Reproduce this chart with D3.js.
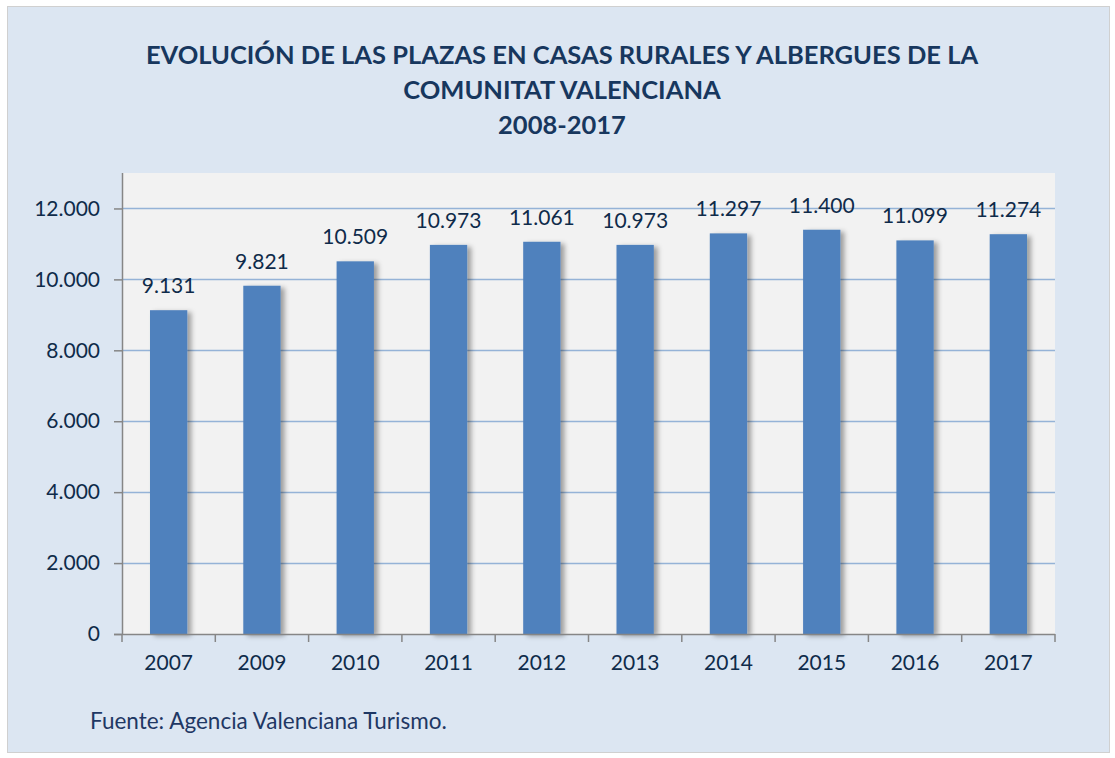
<!DOCTYPE html>
<html>
<head>
<meta charset="utf-8">
<script src="https://cdn.jsdelivr.net/npm/d3@7"></script>
<style>
  body { margin: 0; background: #fff; }
  text { font-family: Lato, "Open Sans", sans-serif; }
</style>
</head>
<body>
<div id="chart"></div>
<script>
const years = ['2007', '2009', '2010', '2011', '2012', '2013', '2014', '2015', '2016', '2017']
const plazas = [9131, 9821, 10509, 10973, 11061, 10973, 11297, 11400, 11099, 11274]
const yTicks = [0, 2000, 4000, 6000, 8000, 10000, 12000]
const titleLines = ['EVOLUCIÓN DE LAS PLAZAS EN CASAS RURALES Y ALBERGUES DE LA', 'COMUNITAT VALENCIANA', '2008-2017']
const source = 'Fuente: Agencia Valenciana Turismo.'

const width = 1115, height = 758
const margin = { top: 173, right: 60, bottom: 124, left: 122 }
const fmt = v => d3.format(',')(v).replace(/,/g, '.')

const svg = d3.select('#chart').append('svg').attr('width', width).attr('height', height)

// shadow for bars
const defs = svg.append('defs')
defs.append('filter').attr('id', 'shadow').attr('x', '-20%').attr('y', '-5%').attr('width', '160%').attr('height', '115%')
  .append('feDropShadow').attr('dx', 4).attr('dy', 2).attr('stdDeviation', 2.5)
  .attr('flood-color', '#000').attr('flood-opacity', 0.35)

// chart background + border
svg.append('rect').attr('x', 7.5).attr('y', 6.5).attr('width', 1102).attr('height', 746)
  .attr('fill', '#dce6f2').attr('stroke', '#d0d0d0')

const x = d3.scaleBand().domain(years)
  .range([margin.left, width - margin.right]).paddingInner(0.6).paddingOuter(0.3)
const y = d3.scaleLinear().domain([0, 13000]).range([height - margin.bottom, margin.top])

// plot area
svg.append('rect').attr('x', margin.left).attr('y', margin.top)
  .attr('width', width - margin.right - margin.left).attr('height', y(0) - margin.top)
  .attr('fill', '#f2f2f2')

// gridlines
svg.append('g').selectAll('line').data(yTicks.slice(1)).join('line')
  .attr('x1', margin.left).attr('x2', width - margin.right)
  .attr('y1', d => Math.round(y(d)) + 0.5).attr('y2', d => Math.round(y(d)) + 0.5)
  .attr('stroke', '#95b3d7').attr('stroke-width', 1.5)

// title
svg.append('text').attr('text-anchor', 'middle').attr('fill', '#17375e')
  .attr('font-weight', 'bold').attr('font-size', 25.5)
  .selectAll('tspan').data(titleLines).join('tspan')
  .attr('x', 562).attr('y', (d, i) => 64 + i * 35).text(d => d)

// bars
svg.append('g').attr('filter', 'url(#shadow)')
  .selectAll('rect').data(plazas).join('rect')
  .attr('x', (d, i) => x(years[i])).attr('width', x.bandwidth())
  .attr('y', d => y(d)).attr('height', d => y(0) - y(d))
  .attr('fill', '#4f81bd')

// data labels
svg.append('g').selectAll('text').data(plazas).join('text')
  .attr('x', (d, i) => x(years[i]) + x.bandwidth() / 2).attr('y', d => y(d) - 17)
  .attr('text-anchor', 'middle').attr('font-size', 21).attr('fill', '#0f2b4a')
  .text(d => fmt(d))

// y axis
const yAxis = svg.append('g').attr('transform', `translate(${margin.left},0)`)
  .call(d3.axisLeft(y).tickValues(yTicks).tickFormat(fmt).tickSize(8).tickPadding(14))
yAxis.select('.domain').attr('stroke', '#868686').attr('stroke-width', 1.5)
  .attr('d', `M0.5,${margin.top}V${y(0)}`)
yAxis.selectAll('.tick line').attr('stroke', '#868686').attr('stroke-width', 1.5)
yAxis.selectAll('.tick text').attr('font-size', 21).attr('fill', '#0f2b4a')
  .style('font-family', 'Lato, "Open Sans", sans-serif')

// x axis
const xAxis = svg.append('g').attr('transform', `translate(0,${y(0)})`)
  .call(d3.axisBottom(x).tickSize(0).tickPadding(21))
xAxis.select('.domain').attr('stroke', '#868686').attr('stroke-width', 1.5)
  .attr('d', `M${margin.left - 8},0.5H${width - margin.right}`)
xAxis.selectAll('.tick text').attr('font-size', 21).attr('fill', '#0f2b4a')
  .style('font-family', 'Lato, "Open Sans", sans-serif')
xAxis.append('g').selectAll('line').data(d3.range(years.length + 1)).join('line')
  .attr('x1', i => margin.left + i * (width - margin.right - margin.left) / years.length)
  .attr('x2', i => margin.left + i * (width - margin.right - margin.left) / years.length)
  .attr('y1', 0).attr('y2', 8).attr('stroke', '#868686').attr('stroke-width', 1.5)

// source
svg.append('text').attr('x', 90).attr('y', 729).attr('font-size', 22.5).attr('fill', '#1f3864')
  .text(source)
</script>
</body>
</html>
